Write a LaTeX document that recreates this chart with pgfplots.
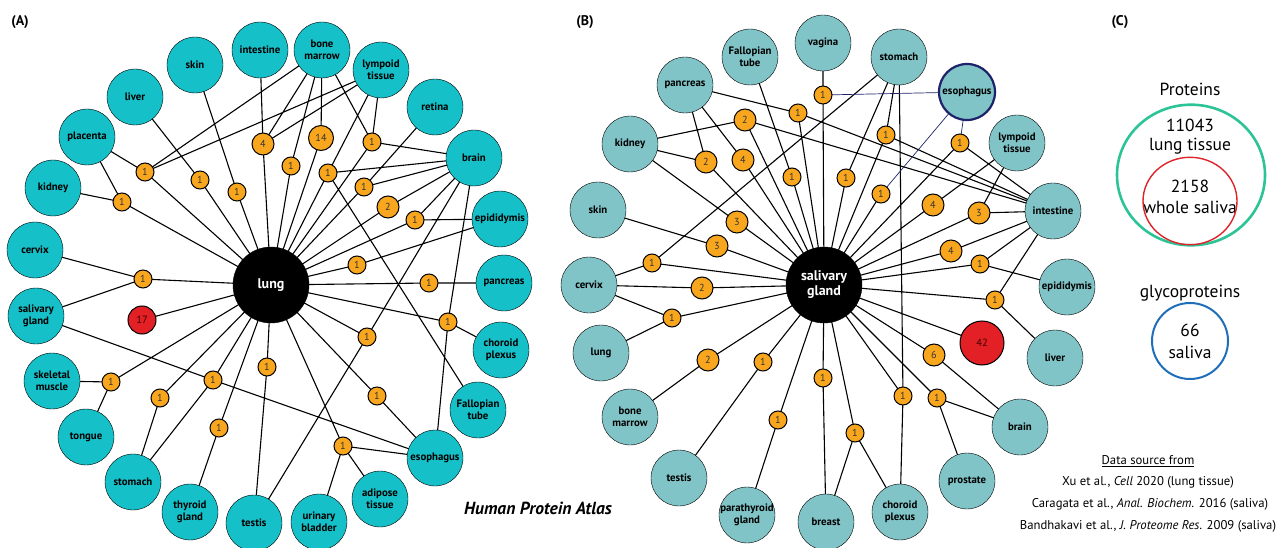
\documentclass[border=0pt]{standalone}
\usepackage{fontspec}
\setmainfont{PT Sans}
\usepackage{pgfplots}
\pgfplotsset{compat=1.18}
\definecolor{cyanA}{RGB}{22,192,200}
\definecolor{tealB}{RGB}{128,196,200}
\definecolor{orangeN}{RGB}{247,166,30}
\definecolor{redN}{RGB}{226,32,38}
\definecolor{navyL}{RGB}{30,35,105}
\definecolor{vgreen}{RGB}{44,196,150}
\definecolor{vred}{RGB}{220,36,42}
\definecolor{vblue}{RGB}{30,110,185}
\pgfplotsset{
  edge/.style={black, line width=1.1pt, line join=round, no markers},
  tis/.style={only marks, mark=*, mark size=28, mark options={draw=black, line width=1.2pt},
    point meta=explicit symbolic, nodes near coords,
    every node near coord/.append style={anchor=center, align=center, text=black, inner sep=0pt,
      font=\fontsize{10.8}{11.8}\selectfont\bfseries}},
  onode/.style={only marks, mark=*, mark options={draw=black, fill=orangeN, line width=1pt},
    point meta=explicit symbolic, nodes near coords,
    every node near coord/.append style={anchor=center, text=black!80, inner sep=0pt,
      font=\fontsize{10.2}{10.2}\selectfont}},
  rnode/.style={only marks, mark=*, mark options={draw=black, fill=redN, line width=1pt},
    point meta=explicit symbolic, nodes near coords,
    every node near coord/.append style={anchor=center, text=black!75!red, inner sep=0pt,
      font=\fontsize{10.5}{10.5}\selectfont}},
}
\begin{document}
\begin{tikzpicture}
\useasboundingbox (0,0) rectangle (1288pt,548pt);
\begin{axis}[at={(0,0)}, anchor=south west, width=1288pt, height=548pt, scale only axis,
  xmin=0, xmax=1288, ymin=0, ymax=548, y dir=reverse, hide axis, clip=false,
  unbounded coords=jump]

% ---------------- Panel A edges ----------------
\addplot[edge] coordinates {
(271,285) (145,172) (271,285) (122,202) (271,285) (200,180) (271,285) (237,192)
(271,285) (263,144) (271,285) (321,138) (271,285) (291,166) (271,285) (328,173)
(271,285) (372,142) (271,285) (364,187) (271,285) (388,207) (271,285) (415,220)
(271,285) (357,265) (271,285) (429,283) (271,285) (448,322) (271,285) (367,337)
(271,285) (377,396) (271,285) (343,446) (271,285) (267,367) (271,285) (219,428)
(271,285) (213,380) (271,285) (160,398) (271,285) (111,382) (271,285) (143,279)
(271,285) (142,320) (nan,nan)
(87,137) (145,172) (322,50) (145,172) (381,70) (nan,nan)
(53,188) (122,202) (87,137) (nan,nan)
(200,180) (135,97) (nan,nan)
(237,192) (195,65) (nan,nan)
(260,50) (263,144) (322,50) (263,144) (381,70) (nan,nan)
(321,138) (322,50) (nan,nan)
(291,166) (322,50) (nan,nan)
(381,70) (328,173) (474,158) (328,173) (478,410) (nan,nan)
(322,50) (372,142) (381,70) (372,142) (474,158) (nan,nan)
(435,107) (364,187) (474,158) (nan,nan)
(388,207) (474,158) (nan,nan)
(474,158) (415,220) (500,219) (nan,nan)
(357,265) (500,219) (nan,nan)
(429,283) (504,283) (nan,nan)
(501,350) (448,322) (474,158) (448,322) (435,458) (nan,nan)
(254,523) (367,337) (474,158) (nan,nan)
(377,396) (435,458) (nan,nan)
(380,499) (343,446) (319,522) (343,446) (435,458) (nan,nan)
(267,367) (254,523) (nan,nan)
(219,428) (190,512) (nan,nan)
(36,316) (213,380) (435,458) (213,380) (133,482) (nan,nan)
(160,398) (133,482) (nan,nan)
(52,381) (111,382) (86,437) (nan,nan)
(35,250) (143,279) (36,316)
};

% ---------------- Panel B edges ----------------
\addplot[edge] coordinates {
(824,285) (823,95) (824,285) (798,113) (824,285) (745,120) (824,285) (706,162)
(824,285) (743,160) (824,285) (792,177) (824,285) (846,178) (824,285) (886,135)
(824,285) (881,194) (824,285) (960,143) (824,285) (933,205) (824,285) (979,213)
(824,285) (737,222) (824,285) (717,246) (824,285) (652,263) (824,285) (702,288)
(824,285) (672,318) (824,285) (951,251) (824,285) (980,264) (824,285) (995,300)
(824,285) (708,360) (824,285) (763,362) (824,285) (778,420) (824,285) (823,378)
(824,285) (855,433) (824,285) (903,396) (824,285) (937,398) (824,285) (934,355)
(824,285) (982,343) (nan,nan)
(823,43) (823,95) (nan,nan)
(685,85) (798,113) (1053,211) (nan,nan)
(630,144) (745,120) (1053,211) (nan,nan)
(630,144) (706,162) (685,85) (nan,nan)
(685,85) (743,160) (nan,nan)
(750,57) (792,177) (nan,nan)
(899,57) (846,178) (nan,nan)
(899,57) (886,135) (1053,211) (nan,nan)
(960,143) (1053,211) (nan,nan)
(1017,143) (933,205) (nan,nan)
(1017,143) (979,213) (1053,211) (nan,nan)
(630,144) (737,222) (nan,nan)
(598,210) (717,246) (nan,nan)
(589,285) (652,263) (899,57) (nan,nan)
(589,285) (702,288) (nan,nan)
(589,285) (672,318) (601,353) (nan,nan)
(951,251) (1053,211) (nan,nan)
(1053,211) (980,264) (1067,287) (nan,nan)
(1053,211) (995,300) (1055,358) (nan,nan)
(708,360) (630,417) (nan,nan)
(763,362) (679,478) (nan,nan)
(778,420) (747,515) (nan,nan)
(823,378) (826,522) (nan,nan)
(826,522) (855,433) (900,512) (nan,nan)
(899,57) (903,396) (900,512) (nan,nan)
(967,481) (937,398) (1020,427) (nan,nan)
(934,355) (1020,427)
};
\addplot[navyL, line width=0.7pt, line join=round, no markers] coordinates {
(823,95) (967,92) (nan,nan) (881,194) (967,92) (nan,nan) (960,143) (967,92)
};

% ---------------- Panel A tissues ----------------
\addplot[tis, mark options={fill=cyanA}] table[meta=label] {
x y label
195 65 skin
260 50 intestine
322 50 {bone\\marrow}
381 70 {lympoid\\tissue}
435 107 retina
474 158 brain
500 219 epididymis
504 283 pancreas
501 350 {choroid\\plexus}
478 410 {Fallopian\\tube}
435 458 esophagus
380 499 {adipose\\tissue}
319 522 {urinary\\bladder}
254 523 testis
190 512 {thyroid\\gland}
133 482 stomach
86 437 tongue
52 381 {skeletal\\muscle}
36 316 {salivary\\gland}
35 250 cervix
53 188 kidney
87 137 placenta
135 97 liver
};

% ---------------- Panel B tissues ----------------
\addplot[tis, mark options={fill=tealB}] table[meta=label] {
x y label
750 57 {Fallopian\\tube}
823 43 vagina
899 57 stomach
1017 143 {lympoid\\tissue}
1053 211 intestine
1067 287 epididymis
1055 358 liver
1020 427 brain
967 481 prostate
900 512 {choroid\\plexus}
826 522 breast
747 515 {parathyroid\\gland}
679 478 testis
630 417 {bone\\marrow}
601 353 lung
589 285 cervix
598 210 skin
630 144 kidney
685 85 pancreas
};
\addplot[tis, mark options={fill=tealB, draw=navyL, line width=2.2pt}] table[meta=label] {
x y label
967 92 esophagus
};

% ---------------- count nodes ----------------
\addplot[onode, mark size=9] table[meta=l] {
x y l
145 172 1
122 202 1
200 180 1
237 192 1
291 166 1
328 173 1
372 142 1
364 187 1
415 220 1
357 265 1
429 283 1
448 322 1
367 337 1
377 396 1
343 446 1
267 367 1
219 428 1
213 380 1
160 398 1
111 382 1
143 279 1
823 95 1
798 113 1
792 177 1
846 178 1
886 135 1
881 194 1
960 143 1
652 263 1
672 318 1
980 264 1
995 300 1
763 362 1
778 420 1
823 378 1
855 433 1
903 396 1
937 398 1
};
\addplot[onode, mark size=11] table[meta=l] {
x y l
263 144 4
388 207 2
745 120 2
706 162 2
743 160 4
933 205 4
979 213 3
737 222 3
717 246 3
702 288 2
951 251 4
708 360 2
934 355 6
};
\addplot[onode, mark size=12.5] table[meta=l] {
x y l
321 138 14
};
\addplot[rnode, mark size=14] table[meta=l] {
x y l
142 320 17
};
\addplot[rnode, mark size=22] table[meta=l] {
x y l
982 343 42
};

% ---------------- hubs ----------------
\addplot[only marks, mark=*, mark size=38, mark options={fill=black, draw=black},
  point meta=explicit symbolic, nodes near coords,
  every node near coord/.append style={anchor=center, align=center, text=white, inner sep=0pt,
    font=\fontsize{14}{15}\selectfont\bfseries}] table[meta=l] {
x y l
271 285 lung
824 285 {salivary\\gland}
};

% ---------------- Panel C (Venn) ----------------
\addplot[only marks, mark=o, mark size=74, mark options={draw=vgreen, line width=2.6pt, yscale=0.95}] coordinates {(1191,175)};
\addplot[only marks, mark=o, mark size=47, mark options={draw=vred, line width=1.4pt, yscale=0.93}] coordinates {(1190,201)};
\addplot[only marks, mark=o, mark size=38, mark options={draw=vblue, line width=2pt}] coordinates {(1190,341)};

\node[font=\fontsize{14}{14}\selectfont\bfseries] at (axis cs:20,22) {(A)};
\node[font=\fontsize{14}{14}\selectfont\bfseries] at (axis cs:585,22) {(B)};
\node[font=\fontsize{14}{14}\selectfont\bfseries] at (axis cs:1120,22) {(C)};
\node[font=\fontsize{17.5}{17.5}\selectfont\bfseries\itshape] at (axis cs:538,508) {Human Protein Atlas};

\node[font=\fontsize{17.5}{17.5}\selectfont] at (axis cs:1190,89) {Proteins};
\node[font=\fontsize{17.5}{19}\selectfont, align=center] at (axis cs:1190,137) {11043\\lung tissue};
\node[font=\fontsize{17.5}{21}\selectfont, align=center] at (axis cs:1190,197) {2158\\whole saliva};
\node[font=\fontsize{17.5}{17.5}\selectfont] at (axis cs:1190,293) {glycoproteins};
\node[font=\fontsize{17.5}{22}\selectfont, align=center] at (axis cs:1190,341) {66\\saliva};

\node[font=\fontsize{12.7}{13}\selectfont] at (axis cs:1148,461) {\underline{Data source from}};
\node[font=\fontsize{12.7}{13}\selectfont] at (axis cs:1148,482) {Xu et al., \textit{Cell} 2020 (lung tissue)};
\node[font=\fontsize{12.7}{13}\selectfont] at (axis cs:1150,504) {Caragata et al., \textit{Anal. Biochem.} 2016 (saliva)};
\node[font=\fontsize{12.7}{13}\selectfont] at (axis cs:1148,526) {Bandhakavi et al., \textit{J. Proteome Res.} 2009 (saliva)};
\end{axis}
\end{tikzpicture}
\end{document}
